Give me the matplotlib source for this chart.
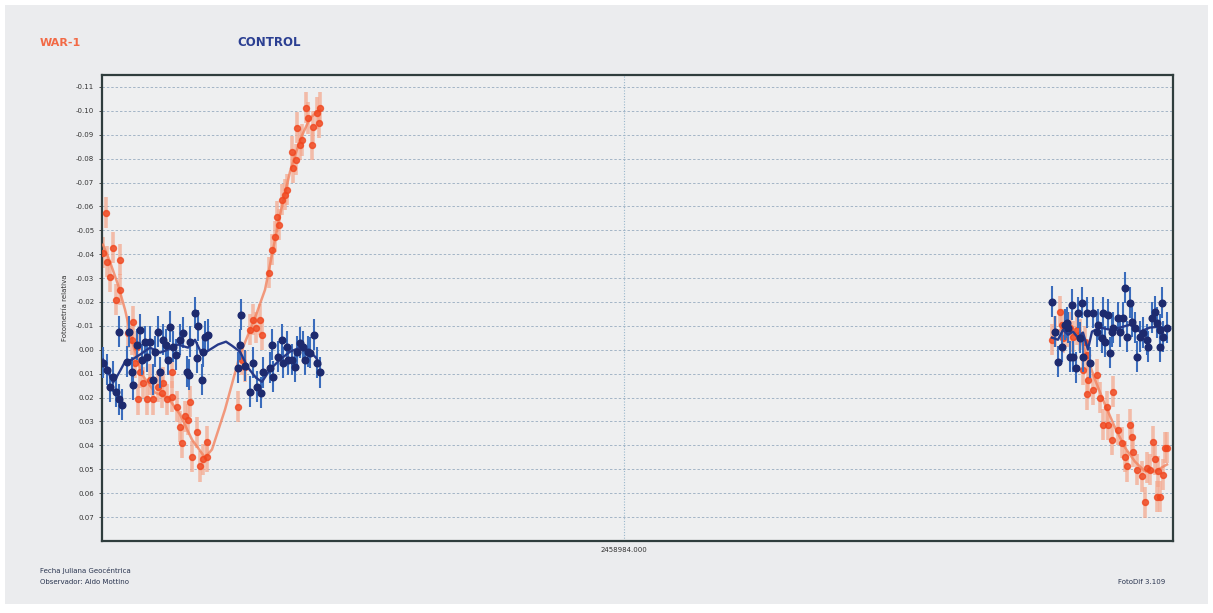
"""
FotoDif differential light curve: target (WAR-1) and control star.
"""

import matplotlib.pyplot as plt
import numpy as np
from matplotlib.patches import Rectangle

# x values are JD - 2458984.000
JD_REF = 2458984.000

red_x = [-0.1042, -0.1036, -0.1034, -0.1028, -0.1022, -0.1016, -0.1008, -0.1008, -0.0992,
         -0.0984, -0.0982, -0.0978, -0.0974, -0.0972, -0.0968, -0.0962, -0.0954, -0.0948,
         -0.0942, -0.0932, -0.0924, -0.0922, -0.0914, -0.0904, -0.0904, -0.0894, -0.0888,
         -0.0884, -0.0878, -0.0872, -0.0868, -0.0864, -0.0854, -0.0848, -0.0842, -0.0834,
         -0.0834, -0.0772, -0.0764, -0.0758, -0.0748, -0.0742, -0.0736, -0.0728, -0.0724,
         -0.0710, -0.0704, -0.0698, -0.0694, -0.0690, -0.0684, -0.0678, -0.0674, -0.0664,
         -0.0662, -0.0656, -0.0654, -0.0648, -0.0644, -0.0636, -0.0632, -0.0624, -0.0622,
         -0.0614, -0.0610, -0.0608,
         0.0856, 0.0862, 0.0872, 0.0876, 0.0878, 0.0886, 0.0892, 0.0898, 0.0906, 0.0912,
         0.0918, 0.0922, 0.0926, 0.0926, 0.0928, 0.0938, 0.0946, 0.0952, 0.0958, 0.0966,
         0.0968, 0.0976, 0.0978, 0.0988, 0.0996, 0.1002, 0.1006, 0.1012, 0.1016, 0.1018,
         0.1026, 0.1036, 0.1042, 0.1046, 0.1052, 0.1058, 0.1062, 0.1066, 0.1068, 0.1072,
         0.1078, 0.1082, 0.1086]
red_y = [-0.0406, -0.0573, -0.0368, -0.0306, -0.0427, -0.0210, -0.0377, -0.0251, -0.0072,
         -0.0042, -0.0118, 0.0054, -0.0013, 0.0208, 0.0095, 0.0137, 0.0208, 0.0125,
         0.0208, 0.0154, 0.0179, 0.0137, 0.0208, 0.0095, 0.0196, 0.0238, 0.0321,
         0.0388, 0.0279, 0.0292, 0.0217, 0.0447, 0.0346, 0.0488, 0.0459, 0.0384,
         0.0447, 0.0238, 0.0041, 0.0070, -0.0084, -0.0126, -0.0093, -0.0126, -0.0063,
         -0.0322, -0.0419, -0.0473, -0.0557, -0.0523, -0.0628, -0.0649, -0.0670, -0.0828,
         -0.0761, -0.0795, -0.0929, -0.0858, -0.0878, -0.1012, -0.0970, -0.0858, -0.0933,
         -0.0991, -0.0950, -0.1012,
         -0.0042, -0.0076, -0.0160, -0.0105, -0.0051, -0.0076, -0.0093, -0.0055, -0.0084,
         -0.0063, 0.0083, -0.0034, 0.0020, 0.0187, 0.0125, 0.0167, 0.0104, 0.0200, 0.0313,
         0.0238, 0.0313, 0.0376, 0.0175, 0.0334, 0.0388, 0.0447, 0.0488, 0.0313, 0.0367,
         0.0426, 0.0501, 0.0530, 0.0639, 0.0493, 0.0501, 0.0384, 0.0459, 0.0614, 0.0509,
         0.0614, 0.0522, 0.0409, 0.0409]
red_err = 0.0065

red_trend_x = [[-0.1042, -0.1028, -0.1012, -0.0998, -0.0982, -0.0964, -0.0938, -0.0912,
                -0.0888, -0.0864, -0.0838, -0.0824, -0.0798, -0.0768, -0.0738, -0.0718,
                -0.0704, -0.0688, -0.0668, -0.0648, -0.0628, -0.0608],
               [0.0856, 0.0872, 0.0892, 0.0912, 0.0928, 0.0942, 0.0962, 0.0982, 0.1002,
                0.1022, 0.1042, 0.1062, 0.1086]]
red_trend_y = [[-0.0440, -0.0368, -0.0272, -0.0168, -0.0022, 0.0104, 0.0179, 0.0200,
                0.0271, 0.0376, 0.0451, 0.0417, 0.0250, 0.0020, -0.0134, -0.0251,
                -0.0398, -0.0565, -0.0745, -0.0878, -0.0970, -0.1004],
               [-0.0051, -0.0084, -0.0076, -0.0051, 0.0041, 0.0125, 0.0229, 0.0325, 0.0409,
                0.0468, 0.0509, 0.0509, 0.0480]]

blue_x = [-0.1042, -0.1034, -0.1028, -0.1022, -0.1016, -0.1010, -0.1010, -0.1004, -0.0994,
          -0.0990, -0.0984, -0.0982, -0.0974, -0.0968, -0.0964, -0.0958, -0.0954, -0.0948,
          -0.0942, -0.0938, -0.0932, -0.0928, -0.0922, -0.0916, -0.0912, -0.0908, -0.0902,
          -0.0896, -0.0888, -0.0882, -0.0874, -0.0870, -0.0868, -0.0858, -0.0854, -0.0852,
          -0.0844, -0.0842, -0.0838, -0.0832,
          -0.0772, -0.0768, -0.0766, -0.0758, -0.0748, -0.0742, -0.0734, -0.0726, -0.0722,
          -0.0708, -0.0704, -0.0702, -0.0692, -0.0684, -0.0682, -0.0674, -0.0672, -0.0664,
          -0.0658, -0.0654, -0.0648, -0.0642, -0.0638, -0.0632, -0.0628, -0.0620, -0.0614,
          -0.0608,
          0.0856, 0.0862, 0.0868, 0.0876, 0.0882, 0.0886, 0.0888, 0.0892, 0.0896, 0.0898,
          0.0904, 0.0908, 0.0912, 0.0916, 0.0918, 0.0926, 0.0932, 0.0938, 0.0946, 0.0948,
          0.0956, 0.0958, 0.0962, 0.0968, 0.0972, 0.0976, 0.0978, 0.0988, 0.0992, 0.0998,
          0.1002, 0.1006, 0.1012, 0.1016, 0.1022, 0.1026, 0.1032, 0.1038, 0.1046, 0.1048,
          0.1056, 0.1062, 0.1066, 0.1072, 0.1072, 0.1076, 0.1078, 0.1086]
blue_y = [0.0054, 0.0083, 0.0154, 0.0112, 0.0175, 0.0208, -0.0076, 0.0229, 0.0050,
          -0.0076, 0.0095, 0.0146, -0.0022, -0.0084, 0.0041, -0.0034, 0.0029, -0.0034,
          0.0125, 0.0008, -0.0076, 0.0095, -0.0042, -0.0022, 0.0041, -0.0097, -0.0013,
          0.0020, -0.0042, -0.0072, 0.0091, 0.0104, -0.0034, -0.0155, 0.0033, -0.0101,
          0.0125, 0.0008, -0.0055, -0.0063,
          0.0075, -0.0021, -0.0147, 0.0066, 0.0175, 0.0054, 0.0154, 0.0179, 0.0095,
          0.0075, -0.0021, 0.0112, 0.0029, -0.0042, 0.0054, -0.0013, 0.0041, 0.0041,
          0.0070, 0.0008, -0.0030, -0.0013, 0.0041, 0.0008, 0.0012, -0.0063, 0.0054,
          0.0095,
          -0.0201, -0.0076, 0.0050, -0.0013, -0.0105, -0.0114, -0.0093, 0.0029, -0.0189,
          0.0029, 0.0075, -0.0155, -0.0051, -0.0197, 0.0029, -0.0155, 0.0054, -0.0155,
          -0.0076, -0.0105, -0.0051, -0.0155, -0.0034, -0.0147, 0.0012, -0.0076, -0.0093,
          -0.0134, -0.0076, -0.0134, -0.0260, -0.0055, -0.0197, -0.0118, -0.0093, 0.0029,
          -0.0055, -0.0072, -0.0042, -0.0013, -0.0134, -0.0160, -0.0114, -0.0084, -0.0013,
          -0.0197, -0.0055, -0.0093]
blue_err = 0.0065

blue_trend_x = [[-0.1042, -0.1032, -0.1022, -0.1012, -0.0998, -0.0984, -0.0968, -0.0948,
                 -0.0928, -0.0912, -0.0892, -0.0872, -0.0858, -0.0844, -0.0828, -0.0812,
                 -0.0796, -0.0784, -0.0768, -0.0752, -0.0736, -0.0724, -0.0708, -0.0688,
                 -0.0668, -0.0648, -0.0628, -0.0616, -0.0608],
                [0.0856, 0.0868, 0.0878, 0.0888, 0.0898, 0.0908, 0.0918, 0.0928, 0.0936,
                 0.0952, 0.0972, 0.0992, 0.1012, 0.1032, 0.1052, 0.1072, 0.1086]]
blue_trend_y = [[0.0041, 0.0091, 0.0137, 0.0104, 0.0050, 0.0041, 0.0020, -0.0009,
                 0.0012, -0.0001, -0.0022, -0.0009, -0.0042, 0.0020, -0.0001, -0.0022,
                 -0.0034, -0.0017, 0.0008, 0.0075, 0.0117, 0.0134, 0.0083, 0.0041,
                 0.0008, -0.0009, 0.0008, 0.0033, 0.0062],
                [-0.0051, -0.0042, -0.0084, -0.0063, -0.0076, -0.0051, -0.0072, -0.0001,
                 -0.0076, -0.0093, -0.0084, -0.0093, -0.0105, -0.0076, -0.0093, -0.0097,
                 -0.0084]]

y_ticks = [-0.11, -0.10, -0.09, -0.08, -0.07, -0.06, -0.05, -0.04, -0.03, -0.02, -0.01,
           0.00, 0.01, 0.02, 0.03, 0.04, 0.05, 0.06, 0.07]

RED = "#f0461e"
RED_LIGHT = "#f5a58a"
RED_LINE = "#f3835f"
NAVY = "#1d2a6e"
BLUE_BAR = "#3a6cbc"
TEXT = "#2a3550"


def main() -> None:
    fig = plt.figure(figsize=(12.13, 6.13), dpi=100, facecolor="white")
    fig.patches.append(Rectangle((0.004, 0.014), 0.992, 0.978, transform=fig.transFigure,
                                 facecolor="#ebecee", edgecolor="none", zorder=-10))

    ax = fig.add_axes([0.0841, 0.1175, 0.8829, 0.7602])
    ax.set_facecolor("#eeeff0")

    for y in y_ticks:
        ax.axhline(y, color="#a3b5c6", lw=0.7, ls=(0, (2.5, 2)), zorder=1)
    ax.axvline(0.0, color="#9ab8cc", lw=0.8, ls=(0, (1, 1.5)), zorder=1)

    ax.errorbar(red_x, red_y, yerr=red_err, fmt="none", ecolor=RED_LIGHT, elinewidth=2.6,
                alpha=0.7, zorder=2)
    for tx, ty in zip(red_trend_x, red_trend_y):
        ax.plot(tx, ty, color=RED_LINE, lw=1.8, alpha=0.8, zorder=3)
    ax.plot(red_x, red_y, "o", ms=4.3, color=RED, mec=RED, alpha=0.8, zorder=4)

    ax.errorbar(blue_x, blue_y, yerr=blue_err, fmt="none", ecolor=BLUE_BAR, elinewidth=1.5,
                zorder=5)
    for tx, ty in zip(blue_trend_x, blue_trend_y):
        ax.plot(tx, ty, color="#263a8a", lw=1.7, zorder=6)
    ax.plot(blue_x, blue_y, "o", ms=4.8, color=NAVY, mec=NAVY, zorder=7)

    ax.set_xlim(-0.1044, 0.1098)
    ax.set_ylim(0.0800, -0.1150)
    ax.set_xticks([0.0], [f"{JD_REF:.3f}"])
    ax.set_yticks(y_ticks, [f"{v:.2f}" for v in y_ticks])
    ax.tick_params(axis="both", labelsize=5, colors="#333333", length=2, width=0.6)
    ax.tick_params(axis="x", length=0, pad=4)
    for spine in ax.spines.values():
        spine.set_color("#2f3d3d")
        spine.set_linewidth(1.6)
    ax.set_ylabel("Fotometría relativa", fontsize=5, color="#333333", labelpad=6)

    fig.text(40 / 1213, 1 - 43 / 613, "WAR-1", color="#f26a46", fontsize=8,
             fontweight="bold", va="center")
    fig.text(237 / 1213, 1 - 43 / 613, "CONTROL", color="#2b3f92", fontsize=8.5,
             fontweight="bold", va="center")
    fig.text(40 / 1213, 1 - 570 / 613, "Fecha Juliana Geocéntrica", color=TEXT,
             fontsize=5, va="center")
    fig.text(40 / 1213, 1 - 582 / 613, "Observador: Aldo Mottino", color=TEXT,
             fontsize=5, va="center")
    fig.text(1165 / 1213, 1 - 582 / 613, "FotoDif 3.109", color=TEXT, fontsize=5,
             va="center", ha="right")

    fig.savefig("out.png", dpi=100, facecolor=fig.get_facecolor())
    plt.close(fig)


if __name__ == "__main__":
    main()
